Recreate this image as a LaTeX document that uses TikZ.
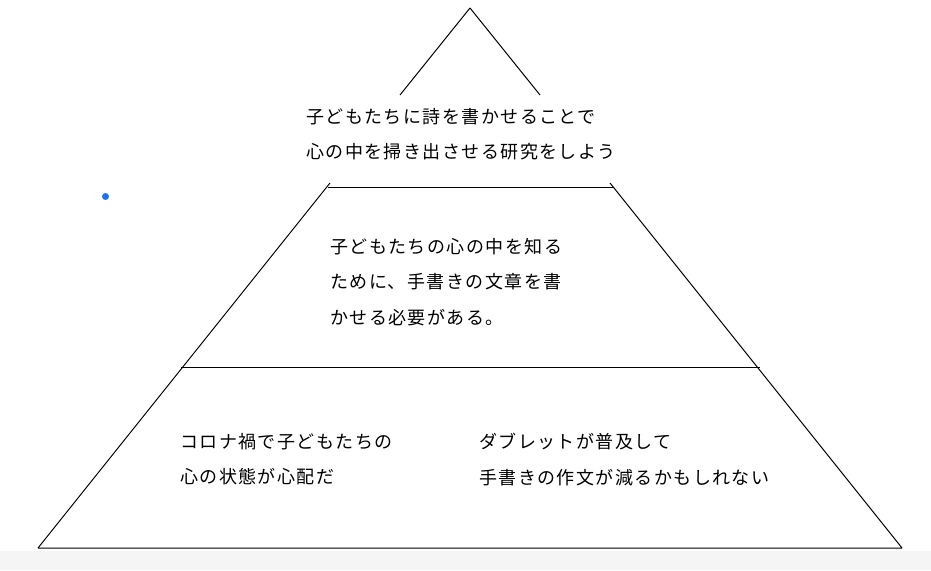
\documentclass[tikz,border=0pt]{standalone}
\usepackage{fontspec}
\newfontfamily\jpfont[LetterSpace=8]{Noto Sans CJK JP}
\usetikzlibrary{positioning}
\usepackage{xcolor}
\definecolor{dotblue}{RGB}{26,115,232}
\definecolor{footgray}{RGB}{245,245,245}
\tikzset{pyramidline/.style={draw=black, line width=1pt},layertext/.style={anchor=north west, inner sep=0pt, align=left, font=\jpfont\fontsize{18pt}{35.5pt}\selectfont}}

\begin{document}
\begin{tikzpicture}[
        x=1pt, y=1pt,
        line join=bevel,
        dotmark/.style={fill=dotblue},
    ]
        \useasboundingbox (0pt, 0pt) rectangle (931pt, 570pt);
        % Footer band
        \fill[footgray] (0pt, 0pt) rectangle (931pt, 19pt);
        % Pyramid
        \draw[pyramidline] (400pt, 475pt) -- (470pt, 562pt) -- (540pt, 475pt);
        \draw[pyramidline] (330pt, 387pt) -- (38pt, 22pt) -- (902pt, 22pt) -- (610pt, 387pt);
        \draw[pyramidline] (328pt, 382pt) -- (613pt, 382pt);
        \draw[pyramidline] (181pt, 202pt) -- (760pt, 202pt);
        % Dot
        \fill[dotmark] (105.5pt, 373.5pt) circle (3.5pt);
        % Labels
        \node[layertext] (goal) at (306pt, 462pt) {子どもたちに詩を書かせることで\\心の中を掃き出させる研究をしよう};
        \node[layertext] (reason) at (330pt, 332pt) {子どもたちの心の中を知る\\ために、手書きの文章を書\\かせる必要がある。};
        \node[layertext] (covid) at (180pt, 137pt) {コロナ禍で子どもたちの\\心の状態が心配だ};
        \node[layertext] (tablet) at (479pt, 137pt) {ダブレットが普及して\\手書きの作文が減るかもしれない};
    \end{tikzpicture}
\end{document}
